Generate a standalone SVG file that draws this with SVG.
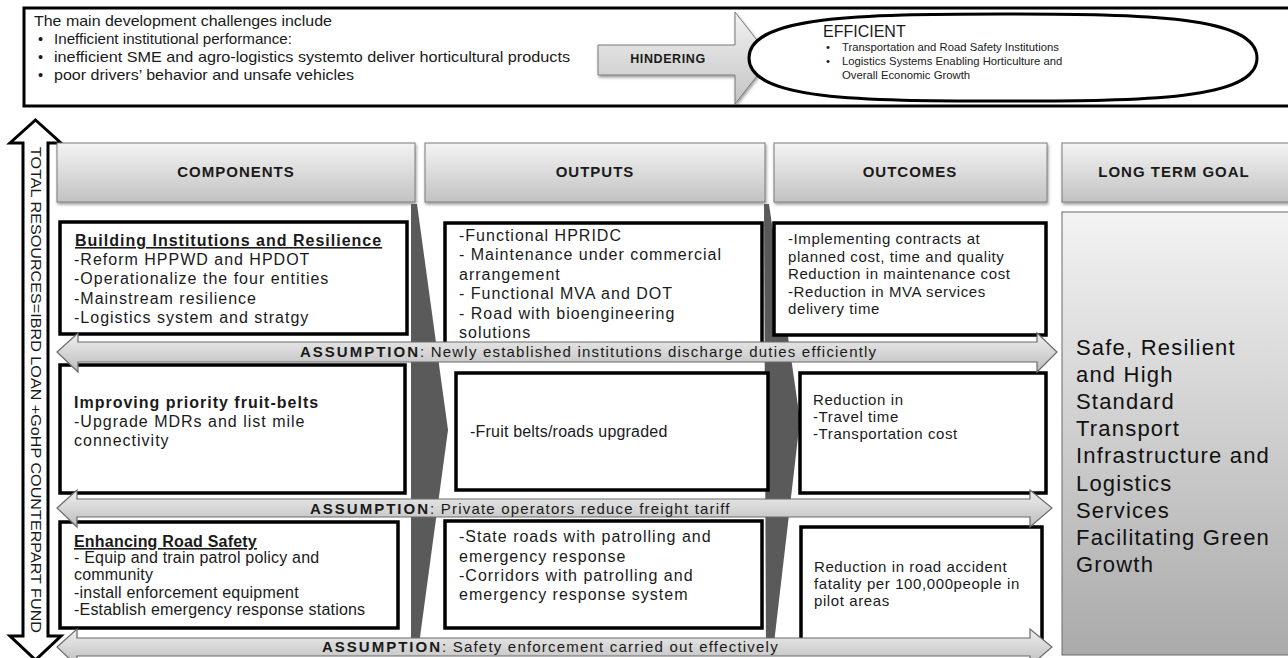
<svg xmlns="http://www.w3.org/2000/svg" width="1288" height="658" viewBox="0 0 1288 658">
<style>
text{font-family:"Liberation Sans",Arial,sans-serif;fill:#1a1a1a}
.top{font-size:14.5px}
.eff{font-size:11.3px}
.hdr{font-size:15px;font-weight:bold;letter-spacing:1px;text-anchor:middle}
.box{fill:#fff;stroke:#000;stroke-width:3.5}
.t16{font-size:16px;letter-spacing:1px}
.t15{font-size:15px;letter-spacing:0.6px}
.c3{font-size:16px;letter-spacing:0.2px}
.b16{font-size:16px;font-weight:bold;letter-spacing:1px}
.asm{font-size:15px;letter-spacing:1.2px}
.asmb{font-weight:bold;letter-spacing:2px}
.goal{font-size:22px;letter-spacing:1.2px;fill:#111}
.wedge{fill:#5a5a5a}
.arr{fill:url(#asmGrad);stroke:#6a6a6a;stroke-width:1.2}
</style>
<defs>
<linearGradient id="hdrGrad" x1="0" y1="0" x2="0" y2="1"><stop offset="0" stop-color="#f4f4f4"/><stop offset="1" stop-color="#c2c2c2"/></linearGradient>
<linearGradient id="asmGrad" x1="0" y1="0" x2="0" y2="1"><stop offset="0" stop-color="#eeeeee"/><stop offset="0.5" stop-color="#d6d6d6"/><stop offset="1" stop-color="#bcbcbc"/></linearGradient>
<linearGradient id="goalGrad" x1="0" y1="0" x2="0" y2="1"><stop offset="0" stop-color="#f3f3f3"/><stop offset="1" stop-color="#aaaaaa"/></linearGradient>
<linearGradient id="hinGrad" x1="0" y1="0" x2="0" y2="1"><stop offset="0" stop-color="#f2f2f2"/><stop offset="1" stop-color="#c4c4c4"/></linearGradient>
<filter id="sh" x="-5%" y="-10%" width="110%" height="130%"><feDropShadow dx="1" dy="2" stdDeviation="1.5" flood-opacity="0.4"/></filter>
</defs>
<rect width="1288" height="658" fill="#fff"/>

<g id="challenges">
<rect x="24" y="8" width="1270" height="98" fill="#fff" stroke="#000" stroke-width="3"/>
<text class="top" x="34" y="26" textLength="298" lengthAdjust="spacingAndGlyphs">The main development challenges include</text>
<text class="top" x="38" y="44">•</text><text class="top" x="54" y="44" textLength="238" lengthAdjust="spacingAndGlyphs">Inefficient institutional performance:</text>
<text class="top" x="38" y="62">•</text><text class="top" x="54" y="62" textLength="516" lengthAdjust="spacingAndGlyphs">inefficient SME and agro-logistics systemto deliver horticultural products</text>
<text class="top" x="38" y="80">•</text><text class="top" x="54" y="80" textLength="300" lengthAdjust="spacingAndGlyphs">poor drivers’ behavior and unsafe vehicles</text>
</g>

<g id="hindering">
<polygon points="598,45 735,45 735,12 771,58 735,104 735,75 598,75" fill="url(#hinGrad)" stroke="#7a7a7a" stroke-width="1" filter="url(#sh)"/>
<text x="668" y="63" style="font-size:12.5px;font-weight:bold;letter-spacing:0.6px;text-anchor:middle">HINDERING</text>
</g>

<g id="efficient">
<path d="M749,58 C749,16 860,14 1003,14 C1146,14 1257,16 1257,58 C1257,100 1146,101 1003,101 C860,101 749,100 749,58 Z" fill="#fff" stroke="#000" stroke-width="3"/>
<text x="823" y="37" style="font-size:16px">EFFICIENT</text>
<text class="eff" x="826" y="51">•</text><text class="eff" x="842" y="51">Transportation and Road Safety Institutions</text>
<text class="eff" x="826" y="65">•</text><text class="eff" x="842" y="65">Logistics Systems Enabling Horticulture and</text>
<text class="eff" x="842" y="79">Overall  Economic Growth</text>
</g>

<g id="resources">
<polygon points="35.5,120 61,143 48,143 48,636 61,636 35.5,660 10,636 23,636 23,143 10,143" fill="#fff" stroke="#000" stroke-width="3"/>
<text transform="translate(36,390) rotate(90)" x="0" y="0" dominant-baseline="central" text-anchor="middle" textLength="486" lengthAdjust="spacingAndGlyphs" style="font-size:14px">TOTAL RESOURCES=IBRD LOAN +GoHP COUNTERPART FUND</text>
</g>

<g id="headers">
<g id="h-components"><rect x="57" y="143" width="358" height="59" fill="url(#hdrGrad)" stroke="#7a7a7a" stroke-width="1" filter="url(#sh)"/><text class="hdr" x="236" y="177">COMPONENTS</text></g>
<g id="h-outputs"><rect x="425" y="143" width="340" height="59" fill="url(#hdrGrad)" stroke="#7a7a7a" stroke-width="1" filter="url(#sh)"/><text class="hdr" x="595" y="177">OUTPUTS</text></g>
<g id="h-outcomes"><rect x="774" y="143" width="273" height="59" fill="url(#hdrGrad)" stroke="#7a7a7a" stroke-width="1" filter="url(#sh)"/><text class="hdr" x="910" y="177">OUTCOMES</text></g>
<g id="h-goal"><rect x="1062" y="143" width="232" height="59" fill="url(#hdrGrad)" stroke="#7a7a7a" stroke-width="1" filter="url(#sh)"/><text class="hdr" x="1174" y="177">LONG TERM GOAL</text></g>
</g>

<g id="connectors">
<polygon class="wedge" points="411,204 417,204 448,430 418,652 411,652"/>
<polygon class="wedge" points="764,204 769,204 800,420 773,652 766,652"/>
</g>

<g id="goal">
<rect x="1062" y="212" width="232" height="443" fill="url(#goalGrad)" stroke="#6a6a6a" stroke-width="1"/>
<text class="goal" x="1076" y="355">Safe, Resilient</text>
<text class="goal" x="1076" y="382">and High</text>
<text class="goal" x="1076" y="409">Standard</text>
<text class="goal" x="1076" y="436">Transport</text>
<text class="goal" x="1076" y="463">Infrastructure and</text>
<text class="goal" x="1076" y="491">Logistics</text>
<text class="goal" x="1076" y="518">Services</text>
<text class="goal" x="1076" y="545">Facilitating Green</text>
<text class="goal" x="1076" y="572">Growth</text>
</g>

<g id="comp1">
<rect class="box" x="60" y="222" width="347" height="112"/>
<text class="b16" x="75" y="246" text-decoration="underline">Building Institutions  and Resilience</text>
<text class="t16" x="74" y="265">-Reform  HPPWD and HPDOT</text>
<text class="t16" x="74" y="284">-Operationalize  the four entities</text>
<text class="t16" x="74" y="304">-Mainstream resilience</text>
<text class="t16" x="74" y="323">-Logistics system and stratgy</text>
</g>
<g id="out1">
<rect class="box" x="445" y="223" width="317" height="124"/>
<text class="t16" x="459" y="241">-Functional HPRIDC</text>
<text class="t16" x="459" y="260">- Maintenance under commercial</text>
<text class="t16" x="459" y="280">arrangement</text>
<text class="t16" x="459" y="299">- Functional MVA and DOT</text>
<text class="t16" x="459" y="319">- Road with bioengineering</text>
<text class="t16" x="459" y="338">solutions</text>
</g>
<g id="outc1">
<rect class="box" x="774" y="223" width="272" height="112"/>
<text class="t15" x="788" y="244">-Implementing contracts at</text>
<text class="t15" x="788" y="262">planned cost, time and quality</text>
<text class="t15" x="788" y="279">Reduction in maintenance cost</text>
<text class="t15" x="788" y="297">-Reduction in MVA  services</text>
<text class="t15" x="788" y="314">delivery time</text>
</g>

<g id="comp2">
<rect class="box" x="60" y="365" width="345" height="128"/>
<text class="b16" x="74" y="408">Improving priority fruit-belts</text>
<text class="t16" x="74" y="427">-Upgrade  MDRs and list mile</text>
<text class="t16" x="74" y="446">connectivity</text>
</g>
<g id="out2">
<rect class="box" x="456" y="373" width="312" height="117"/>
<text class="c3" x="470" y="437">-Fruit belts/roads upgraded</text>
</g>
<g id="outc2">
<rect class="box" x="800" y="373" width="246" height="120"/>
<text class="t15" x="813" y="405">Reduction in</text>
<text class="t15" x="813" y="422">-Travel time</text>
<text class="t15" x="813" y="439">-Transportation cost</text>
</g>

<g id="comp3">
<rect class="box" x="60" y="522" width="338" height="106"/>
<text class="c3" x="74" y="547" font-weight="bold" text-decoration="underline">Enhancing  Road  Safety</text>
<text class="c3" x="74" y="563">- Equip and train patrol policy and</text>
<text class="c3" x="74" y="580">community</text>
<text class="c3" x="74" y="598">-install enforcement equipment</text>
<text class="c3" x="74" y="615">-Establish emergency response stations</text>
</g>
<g id="out3">
<rect class="box" x="445" y="521" width="317" height="107"/>
<text class="t16" x="459" y="542">-State roads with patrolling  and</text>
<text class="t16" x="459" y="562">emergency  response</text>
<text class="t16" x="459" y="581">-Corridors  with patrolling  and</text>
<text class="t16" x="459" y="600">emergency  response  system</text>
</g>
<g id="outc3">
<rect class="box" x="801" y="527" width="241" height="118"/>
<text class="t15" x="814" y="572">Reduction in road accident</text>
<text class="t15" x="814" y="589">fatality per 100,000people in</text>
<text class="t15" x="814" y="606">pilot areas</text>
</g>

<g id="assumptions">
<g id="asm1">
<polygon class="arr" points="57,352 78,333 78,342 1037,342 1037,333 1057,352 1037,372 1037,362 78,362 78,372"/>
<text class="asm" x="300" y="357"><tspan class="asmb">ASSUMPTION</tspan>: Newly established institutions discharge duties efficiently</text>
</g>
<g id="asm2">
<polygon class="arr" points="57,508 77,490 77,499 1030,499 1030,490 1052,508 1030,527 1030,517 77,517 77,527"/>
<text class="asm" x="310" y="514"><tspan class="asmb">ASSUMPTION</tspan>: Private operators reduce freight tariff</text>
</g>
<g id="asm3">
<polygon class="arr" points="57,647 77,629 77,638 1030,638 1030,629 1052,647 1030,666 1030,656 77,656 77,666"/>
<text class="asm" x="322" y="652"><tspan class="asmb">ASSUMPTION</tspan>: Safety enforcement carried out effectively</text>
</g>
</g>
</svg>
